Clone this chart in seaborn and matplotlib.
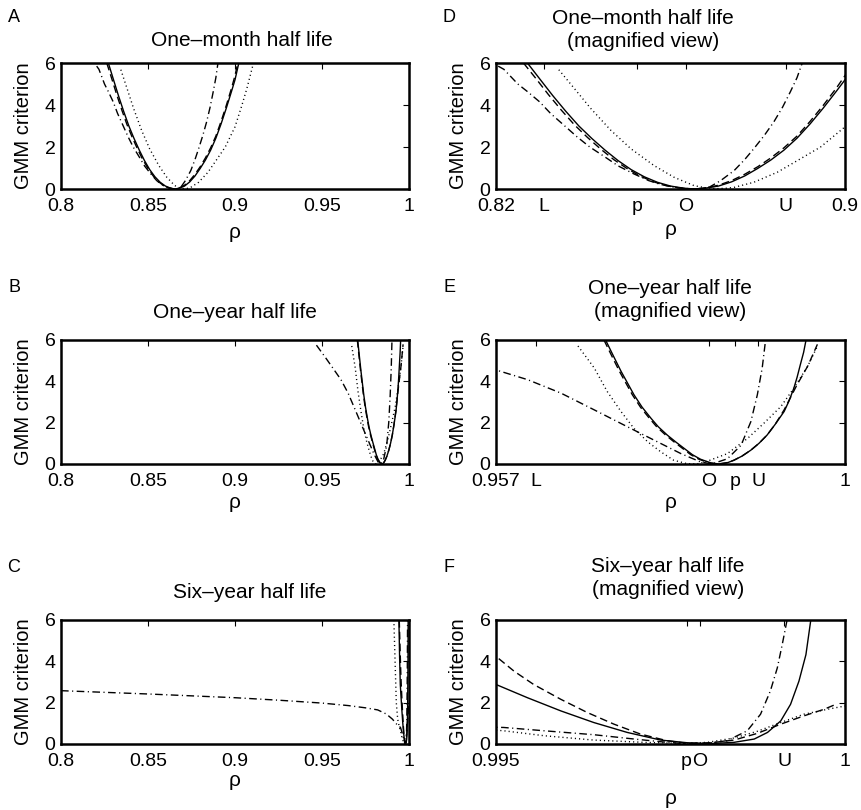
import matplotlib
matplotlib.use("Agg")
import matplotlib.pyplot as plt
import pandas as pd
import seaborn as sns

# ---------------- data ----------------
# one-month half life (panels A and D)
rho_solid_1m = [0.8272, 0.8300, 0.8330, 0.8360, 0.8390, 0.8420, 0.8450, 0.8480, 0.8510, 0.8540,
                0.8570, 0.8600, 0.8630, 0.8655, 0.8680, 0.8710, 0.8740, 0.8770, 0.8800, 0.8830,
                0.8860, 0.8890, 0.8920, 0.8950, 0.8980, 0.9000, 0.9022]
gmm_solid_1m = [6.00, 5.25, 4.45, 3.70, 3.00, 2.40, 1.85, 1.35, 0.92, 0.58,
                0.32, 0.14, 0.04, 0.00, 0.04, 0.14, 0.34, 0.62, 0.98, 1.38,
                1.85, 2.42, 3.10, 3.85, 4.65, 5.20, 6.00]
rho_dashed_1m = [0.8263, 0.8290, 0.8320, 0.8350, 0.8380, 0.8410, 0.8440, 0.8470, 0.8500, 0.8530,
                 0.8560, 0.8590, 0.8620, 0.8650, 0.8680, 0.8710, 0.8740, 0.8770, 0.8800, 0.8830,
                 0.8860, 0.8890, 0.8920, 0.8950, 0.8980, 0.9000, 0.9016]
gmm_dashed_1m = [6.00, 5.30, 4.50, 3.75, 3.05, 2.45, 1.90, 1.40, 0.98, 0.62,
                 0.35, 0.16, 0.05, 0.00, 0.05, 0.18, 0.40, 0.70, 1.06, 1.48,
                 1.96, 2.52, 3.22, 3.98, 4.80, 5.40, 6.00]
rho_dotted_1m = [0.8344, 0.8379, 0.8417, 0.8463, 0.8509, 0.8562, 0.8608, 0.8654, 0.8680, 0.8703,
                 0.8725, 0.8746, 0.8791, 0.8845, 0.8898, 0.8944, 0.9000, 0.9039, 0.9068, 0.9103]
gmm_dotted_1m = [5.68, 4.80, 3.84, 2.80, 1.92, 1.12, 0.56, 0.16, 0.06, 0.02,
                 0.03, 0.08, 0.32, 0.80, 1.44, 2.00, 2.96, 3.97, 4.78, 5.90]
rho_dashdot_1m = [0.8205, 0.8218, 0.8250, 0.8272, 0.8300, 0.8325, 0.8355, 0.8386, 0.8415, 0.8448,
                  0.8480, 0.8516, 0.8550, 0.8577, 0.8610, 0.8640, 0.8665, 0.8690, 0.8715, 0.8746,
                  0.8770, 0.8791, 0.8815, 0.8837, 0.8857, 0.8875, 0.8890, 0.8902]
gmm_dashdot_1m = [5.85, 5.70, 5.00, 4.64, 4.15, 3.60, 3.05, 2.48, 2.00, 1.55,
                  1.10, 0.72, 0.40, 0.22, 0.08, 0.01, 0.00, 0.10, 0.40, 0.88,
                  1.40, 1.92, 2.55, 3.20, 3.90, 4.64, 5.30, 6.00]

# one-year half life (panels B and E)
rho_solid_1y = [0.9705, 0.9715, 0.9724, 0.9740, 0.9750, 0.9761, 0.9770, 0.9781, 0.9792, 0.9802,
                0.9812, 0.9822, 0.9835, 0.9845, 0.9855, 0.9863, 0.9873, 0.9884, 0.9894, 0.9904,
                0.9914, 0.9925, 0.9931, 0.9937, 0.9941, 0.9945, 0.9949, 0.9952]
gmm_solid_1y = [6.00, 5.20, 4.49, 3.35, 2.75, 2.21, 1.80, 1.40, 1.05, 0.75,
                0.45, 0.23, 0.05, 0.00, 0.06, 0.18, 0.38, 0.67, 1.00, 1.40,
                1.92, 2.54, 3.05, 3.67, 4.20, 4.81, 5.40, 6.00]
rho_dashed_1y = [0.9703, 0.9713, 0.9722, 0.9738, 0.9748, 0.9759, 0.9768, 0.9779, 0.9790, 0.9800,
                 0.9810, 0.9820, 0.9833, 0.9843, 0.9854, 0.9863, 0.9873, 0.9884, 0.9894, 0.9904,
                 0.9914, 0.9925, 0.9941, 0.9954, 0.9966]
gmm_dashed_1y = [6.00, 5.20, 4.49, 3.35, 2.75, 2.21, 1.80, 1.40, 1.05, 0.75,
                 0.45, 0.23, 0.05, 0.00, 0.06, 0.18, 0.38, 0.67, 1.00, 1.40,
                 1.92, 2.62, 3.84, 4.73, 5.79]
rho_dotted_1y = [0.9671, 0.9691, 0.9707, 0.9724, 0.9740, 0.9757, 0.9773, 0.9789, 0.9805, 0.9817,
                 0.9830, 0.9855, 0.9880, 0.9900, 0.9921, 0.9937, 0.9954, 0.9966]
gmm_dotted_1y = [5.71, 4.65, 3.51, 2.54, 1.72, 1.07, 0.59, 0.18, 0.02, 0.00,
                 0.13, 0.50, 1.24, 1.97, 2.78, 3.67, 4.73, 5.70]
rho_dashdot_1y = [0.9468, 0.9520, 0.9570, 0.9609, 0.9650, 0.9691, 0.9732, 0.9765, 0.9798, 0.9822,
                  0.9836, 0.9855, 0.9872, 0.9884, 0.9892, 0.9898, 0.9902]
gmm_dashdot_1y = [5.75, 5.15, 4.55, 4.08, 3.43, 2.62, 1.80, 1.15, 0.50, 0.10,
                  0.00, 0.25, 0.91, 2.05, 3.35, 4.65, 5.95]

# six-year half life (panels C and F)
rho_solid_6y = [0.9942, 0.9946, 0.99500, 0.99545, 0.99593, 0.99640, 0.99688, 0.99736, 0.99774, 0.99808,
                0.99841, 0.99870, 0.99889, 0.99908, 0.99922, 0.99934, 0.99944, 0.99951]
gmm_solid_6y = [6.00, 4.20, 2.88, 2.24, 1.60, 1.04, 0.56, 0.19, 0.06, 0.02,
                0.08, 0.24, 0.56, 1.12, 1.92, 3.04, 4.32, 6.00]
rho_dashed_6y = [0.9944, 0.99500, 0.99526, 0.99554, 0.99593, 0.99631, 0.99669, 0.99707, 0.99745, 0.99774,
                 0.99808, 0.99841, 0.99874, 0.99908, 0.99941, 0.99970, 0.99989]
gmm_dashed_6y = [6.00, 4.24, 3.52, 2.88, 2.16, 1.52, 0.96, 0.48, 0.16, 0.03,
                 0.06, 0.19, 0.51, 0.96, 1.36, 1.68, 1.95]
rho_dotted_6y = [0.9913, 0.9920, 0.9927, 0.9935, 0.9945, 0.99511, 0.99569, 0.99640, 0.99712, 0.99770,
                 0.99803, 0.99841, 0.99874, 0.99908, 0.99941, 0.99975, 1.00000]
gmm_dotted_6y = [6.00, 4.00, 2.00, 1.20, 0.80, 0.64, 0.40, 0.19, 0.08, 0.03,
                 0.08, 0.29, 0.61, 1.04, 1.44, 1.68, 1.84]
rho_dashdot_6y = [0.800, 0.825, 0.850, 0.875, 0.900, 0.925, 0.950, 0.965, 0.975, 0.982,
                  0.987, 0.9905, 0.993, 0.99511, 0.99569, 0.99640, 0.99698, 0.99736, 0.99765, 0.99795,
                  0.99831, 0.99860, 0.99879, 0.99893, 0.99903, 0.99910, 0.99917]
gmm_dashdot_6y = [2.58, 2.50, 2.42, 2.33, 2.24, 2.12, 1.98, 1.86, 1.75, 1.65,
                  1.45, 1.20, 0.95, 0.80, 0.64, 0.45, 0.24, 0.11, 0.03, 0.00,
                  0.16, 0.64, 1.44, 2.56, 3.68, 4.80, 6.00]

# tick labels of the magnified views
ticks_D = [0.82, 0.8310, 0.8523, 0.8635, 0.8864, 0.9]
labels_D = ["0.82", "L", "p", "O", "U", "0.9"]
ticks_E = [0.957, 0.9619, 0.9832, 0.9865, 0.9893, 1.0]
labels_E = ["0.957", "L", "O", "p", "U", "1"]
ticks_F = [0.995, 0.99773, 0.99792, 0.99913, 1.0]
labels_F = ["0.995", "p", "O", "U", "1"]
ticks_full = [0.8, 0.85, 0.9, 0.95, 1.0]
labels_full = ["0.8", "0.85", "0.9", "0.95", "1"]


def frame(curves):
    parts = []
    for name, r, g in curves:
        parts.append(pd.DataFrame({"rho": r, "gmm": g, "curve": name}))
    return pd.concat(parts, ignore_index=True)


df_1m = frame([("solid", rho_solid_1m, gmm_solid_1m), ("dashed", rho_dashed_1m, gmm_dashed_1m),
               ("dotted", rho_dotted_1m, gmm_dotted_1m), ("dashdot", rho_dashdot_1m, gmm_dashdot_1m)])
df_1y = frame([("solid", rho_solid_1y, gmm_solid_1y), ("dashed", rho_dashed_1y, gmm_dashed_1y),
               ("dotted", rho_dotted_1y, gmm_dotted_1y), ("dashdot", rho_dashdot_1y, gmm_dashdot_1y)])
df_6y = frame([("solid", rho_solid_6y, gmm_solid_6y), ("dashed", rho_dashed_6y, gmm_dashed_6y),
               ("dotted", rho_dotted_6y, gmm_dotted_6y), ("dashdot", rho_dashdot_6y, gmm_dashdot_6y)])

dash_map = {"solid": "", "dashed": (5.5, 3), "dotted": (0.8, 2.2), "dashdot": (5.5, 2.5, 0.8, 2.5)}

sns.set_style("white")
plt.rcParams["font.family"] = ["Liberation Sans", "DejaVu Sans"]
plt.rcParams["text.color"] = "black"
plt.rcParams["axes.labelcolor"] = "black"

W, H = 861, 810
fig = plt.figure(figsize=(W / 100, H / 100), dpi=100)

# (letter, df, left, top, width, height, xlim, ticks, labels, title, title_xy, letter_xy, xlabel_y)
panels = [
    ("A", df_1m, 61, 63, 348, 126, (0.8, 1.0), ticks_full, labels_full,
     "One\u2013month half life", (242, 40), (14, 17), 232),
    ("D", df_1m, 496, 63, 349, 126, (0.82, 0.9), ticks_D, labels_D,
     "One\u2013month half life\n(magnified view)", (643, 30), (449, 17), 230),
    ("B", df_1y, 61, 340, 348, 124, (0.8, 1.0), ticks_full, labels_full,
     "One\u2013year half life", (235, 312), (14, 288), 503),
    ("E", df_1y, 496, 340, 349, 124, (0.957, 1.0), ticks_E, labels_E,
     "One\u2013year half life\n(magnified view)", (670, 300), (449, 287), 503),
    ("C", df_6y, 61, 620, 348, 124, (0.8, 1.0), ticks_full, labels_full,
     "Six\u2013year half life", (250, 592), (14, 567), 780),
    ("F", df_6y, 496, 620, 349, 124, (0.995, 1.0), ticks_F, labels_F,
     "Six\u2013year half life\n(magnified view)", (668, 578), (449, 567), 798),
]

for letter, df, left, top, width, height, xlim, ticks, labels, title, txy, lxy, xly in panels:
    ax = fig.add_axes([left / W, 1 - (top + height) / H, width / W, height / H])
    sns.lineplot(data=df, x="rho", y="gmm", style="curve",
                 style_order=["solid", "dashed", "dotted", "dashdot"], dashes=dash_map,
                 color="k", linewidth=1.0, estimator=None, sort=False, legend=False, ax=ax)
    ax.set_xlim(*xlim)
    ax.set_ylim(0, 6)
    ax.set_xticks(ticks)
    ax.set_xticklabels(labels)
    ax.set_yticks([0, 2, 4, 6])
    ax.set_yticklabels(["0", "2", "4", "6"])
    ax.tick_params(direction="in", length=4, width=0.8, top=True, right=True,
                   labelsize=14, colors="k")
    ax.tick_params(axis="x", pad=6.5)
    ax.tick_params(axis="y", pad=4)
    for sp in ax.spines.values():
        sp.set_linewidth(1.8)
        sp.set_color("k")
    ax.set_xlabel("")
    ax.set_ylabel("GMM criterion", fontsize=14.5)
    ax.yaxis.set_label_coords(-0.08, 0.5)
    fig.text(txy[0] / W, 1 - txy[1] / H, title, ha="center", va="center",
             fontsize=15, linespacing=1.3)
    fig.text(lxy[0] / W, 1 - lxy[1] / H, letter, ha="center", va="center", fontsize=13)
    fig.text((left + width / 2) / W, 1 - xly / H, "\u03c1", ha="center", va="center", fontsize=15)

fig.savefig("out.png", dpi=100)
